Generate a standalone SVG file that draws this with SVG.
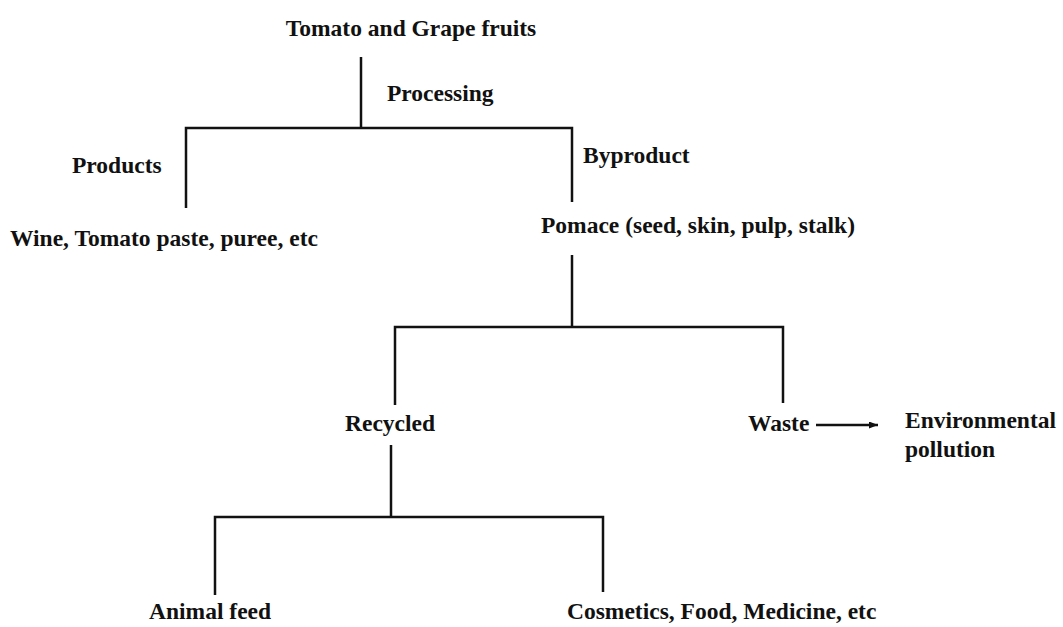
<svg xmlns="http://www.w3.org/2000/svg" width="1063" height="627" viewBox="0 0 1063 627">
<defs>
<style>
text{font-family:"Liberation Serif","Times New Roman",serif;font-weight:bold;font-size:23.5px;fill:#111}
.c line,.c polyline{stroke:#111;stroke-width:2.5;fill:none}
.m{text-anchor:middle}
</style>
<marker id="ah" markerWidth="9" markerHeight="7" refX="9" refY="3.5" orient="auto" markerUnits="userSpaceOnUse">
<path d="M0,0 L9,3.5 L0,7 Z" fill="#111"/>
</marker>
</defs>
<rect width="1063" height="627" fill="#fff"/>
<g class="c" id="connectors">
<line x1="361" y1="57" x2="361" y2="128"/>
<polyline points="186,208 186,128 572,128 572,202"/>
<line x1="572" y1="255" x2="572" y2="327"/>
<polyline points="395,405 395,327 783,327 783,403"/>
<line x1="391" y1="445" x2="391" y2="517"/>
<polyline points="215,595 215,517 603,517 603,592"/>
<line x1="816" y1="425" x2="878" y2="425" marker-end="url(#ah)"/>
</g>
<g id="n-fruits"><text x="411" y="36" class="m">Tomato and Grape fruits</text></g>
<g id="l-processing"><text x="387" y="101">Processing</text></g>
<g id="l-products"><text x="72" y="173">Products</text></g>
<g id="l-byproduct"><text x="583" y="163">Byproduct</text></g>
<g id="n-wine"><text x="10" y="246">Wine, Tomato paste, puree, etc</text></g>
<g id="n-pomace"><text x="541" y="233">Pomace (seed, skin, pulp, stalk)</text></g>
<g id="n-recycled"><text x="345" y="431">Recycled</text></g>
<g id="n-waste"><text x="748" y="431">Waste</text></g>
<g id="n-env"><text x="905" y="428">Environmental</text><text x="905" y="457">pollution</text></g>
<g id="n-feed"><text x="149" y="619">Animal feed</text></g>
<g id="n-cosm"><text x="567" y="619">Cosmetics, Food, Medicine, etc</text></g>
</svg>
